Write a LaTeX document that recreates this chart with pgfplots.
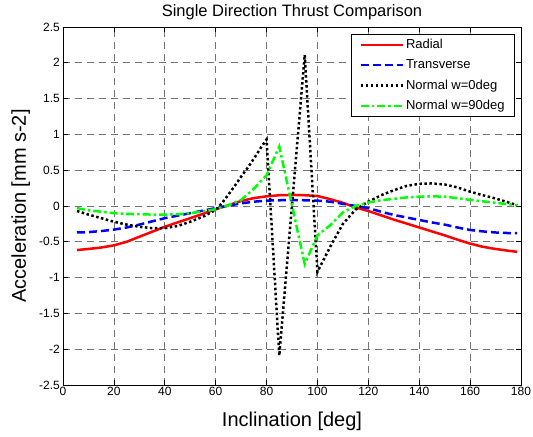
\documentclass[border=0pt]{standalone}
\usepackage{fontspec}
\setmainfont{Liberation Sans}
\usepackage{pgfplots}
\pgfplotsset{compat=1.18}
\usepackage{pgfplotstable}

% values
\pgfplotstableread{
x y
5.5 -0.615
10 -0.60
15 -0.58
20 -0.55
25 -0.50
30 -0.43
35 -0.36
40 -0.29
45 -0.23
50 -0.17
55 -0.11
60 -0.045
65 0.01
70 0.07
75 0.11
80 0.135
85 0.15
90 0.155
95 0.15
100 0.14
105 0.095
110 0.045
115 -0.02
120 -0.07
125 -0.13
130 -0.19
135 -0.245
140 -0.30
145 -0.355
150 -0.41
155 -0.47
160 -0.525
165 -0.57
170 -0.60
175 -0.625
178.5 -0.64
}\radial

\pgfplotstableread{
x y
5.5 -0.37
10 -0.365
15 -0.35
20 -0.33
25 -0.30
30 -0.26
35 -0.215
40 -0.17
45 -0.135
50 -0.10
55 -0.065
60 -0.03
65 0.005
70 0.037
75 0.06
80 0.075
85 0.08
90 0.082
95 0.08
100 0.075
105 0.06
110 0.03
115 0.0
120 -0.03
125 -0.08
130 -0.125
135 -0.16
140 -0.195
145 -0.23
150 -0.26
155 -0.30
160 -0.335
165 -0.355
170 -0.37
175 -0.378
178.5 -0.38
}\transverse

\pgfplotstableread{
x y
5.5 -0.07
10 -0.12
15 -0.17
20 -0.22
25 -0.26
30 -0.29
35 -0.31
40 -0.31
45 -0.28
50 -0.22
55 -0.15
60 -0.055
62.5 0.04
65 0.16
67.5 0.28
70 0.41
72.5 0.53
75 0.66
77.5 0.80
80 0.93
85 -2.09
95 2.11
100 -0.92
105 -0.57
110 -0.25
115 -0.05
120 0.06
125 0.15
130 0.22
135 0.28
140 0.31
145 0.315
150 0.30
155 0.26
160 0.20
165 0.15
170 0.105
175 0.05
178.5 0.01
}\normalzero

\pgfplotstableread{
x y
5.5 -0.03
10 -0.06
15 -0.08
20 -0.10
25 -0.11
30 -0.115
35 -0.12
40 -0.12
45 -0.115
50 -0.10
55 -0.075
60 -0.045
65 0.01
70 0.084
75 0.24
80 0.43
85 0.83
95 -0.81
100 -0.41
105 -0.27
110 -0.09
115 0.0
120 0.05
125 0.08
130 0.10
135 0.12
140 0.13
145 0.135
150 0.13
155 0.11
160 0.085
165 0.065
170 0.045
175 0.025
178.5 0.01
}\normalninety

\begin{document}
\begin{tikzpicture}
\begin{axis}[
  width=458pt, height=358pt, scale only axis,
  xmin=0, xmax=180, ymin=-2.5, ymax=2.5,
  xtick={0,20,40,60,80,100,120,140,160,180},
  ytick={-2.5,-2,-1.5,-1,-0.5,0,0.5,1,1.5,2,2.5},
  /pgf/number format/assume math mode=true,
  tick align=inside, major tick length=5pt,
  axis line style={line width=0.8pt},
  every tick/.style={black, line width=0.6pt},
  grid=major,
  major grid style={black!55, line width=0.6pt, dash pattern=on 7pt off 5pt},
  ticklabel style={font=\fontsize{12}{14}\selectfont},
  xticklabel style={inner sep=2pt},
  yticklabel style={inner sep=3pt},
  title={Single Direction Thrust Comparison},
  every axis title shift=0pt,
  title style={at={(axis description cs:0.5,1.028)}, anchor=base,
    font=\fontsize{16.5}{19}\selectfont},
  xlabel={Inclination [deg]},
  xlabel style={at={(axis description cs:0.5,-0.115)}, anchor=base,
    font=\fontsize{20}{24}\selectfont},
  ylabel={Acceleration [mm s-2]},
  ylabel style={at={(axis description cs:-0.081,0.5)}, anchor=base,
    font=\fontsize{20}{24}\selectfont},
  legend style={at={(axis description cs:0.987,0.98)}, anchor=north east,
    draw=black, line width=0.8pt, fill=white,
    font=\fontsize{13}{15}\selectfont,
    inner xsep=8pt, inner ysep=3pt, row sep=5.5pt,
    cells={anchor=west}},
  legend image code/.code={\draw[#1] (0pt,0pt) -- (42pt,0pt);},
]
\addplot[red, line width=2.5pt] table {\radial};
\addplot[blue, line width=2.5pt, dash pattern=on 8pt off 4pt] table {\transverse};
\addplot[black, line width=2.5pt, dash pattern=on 2.5pt off 2.5pt] table {\normalzero};
\addplot[green, line width=2.5pt, dash pattern=on 8pt off 3pt on 2.5pt off 3pt] table {\normalninety};
\legend{Radial, Transverse, Normal w=0deg, Normal w=90deg}
\end{axis}
\pgfresetboundingbox
\path (current axis.south west) ++(-63pt,-52pt) rectangle ([shift={(12pt,27pt)}]current axis.north east);
\end{tikzpicture}
\end{document}
